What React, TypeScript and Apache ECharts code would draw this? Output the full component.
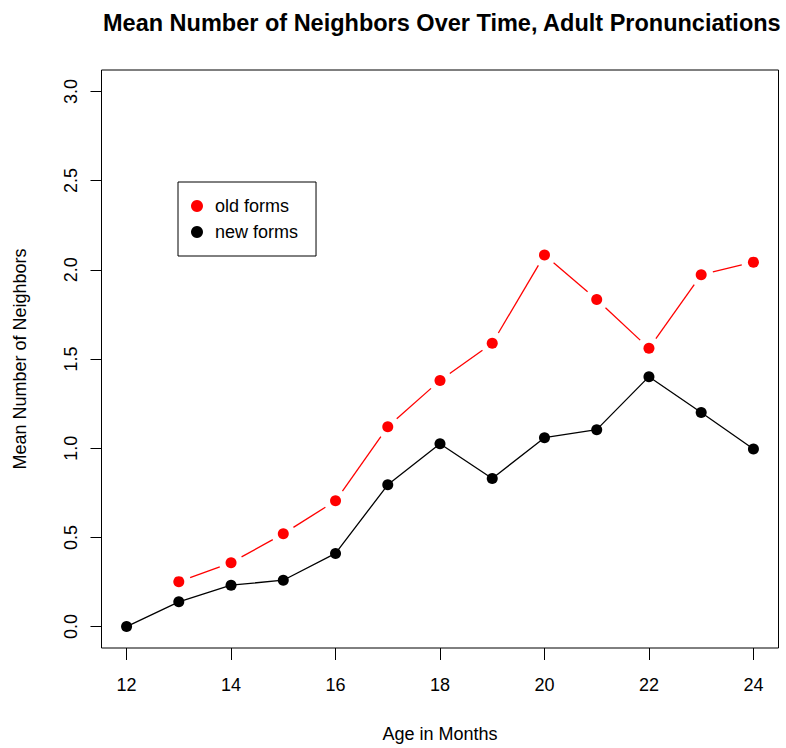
import React, { useEffect, useRef } from "react";
import * as echarts from "echarts";

const ages = [12, 13, 14, 15, 16, 17, 18, 19, 20, 21, 22, 23, 24];
const oldForms: (number | null)[] = [null, 0.252, 0.358, 0.52, 0.705, 1.12, 1.38, 1.588, 2.083, 1.833, 1.56, 1.972, 2.043];
const newForms = [0, 0.139, 0.232, 0.26, 0.41, 0.795, 1.025, 0.83, 1.059, 1.104, 1.401, 1.2, 0.995];
const xTicks = [12, 14, 16, 18, 20, 22, 24];
const yTicks = [0, 0.5, 1, 1.5, 2, 2.5, 3];
const titleText = "Mean Number of Neighbors Over Time, Adult Pronunciations";
const xTitle = "Age in Months";
const yTitle = "Mean Number of Neighbors";

const FONT = "'Liberation Sans', Arial, Helvetica, sans-serif";

export default function App() {
  const ref = useRef<HTMLDivElement>(null);
  useEffect(() => {
    if (!ref.current) return;
    const chart = echarts.init(ref.current, undefined, { renderer: "svg" });
    const oldPts = ages.map((a, i) => [a, oldForms[i]]).filter((p) => p[1] !== null) as number[][];
    const newPts = ages.map((a, i) => [a, newForms[i]]);
    const oldSegs: number[][] = [];
    for (let i = 0; i < oldPts.length - 1; i++) {
      oldSegs.push([oldPts[i][0], oldPts[i][1], oldPts[i + 1][0], oldPts[i + 1][1]]);
    }
    const GAP = 12;
    chart.setOption({
      animation: false,
      backgroundColor: "#fff",
      textStyle: { fontFamily: FONT },
      title: {
        text: titleText,
        left: 98,
        top: 6,
        textStyle: { fontFamily: FONT, fontWeight: "bold", fontSize: 23.5, color: "#000" },
      },
      grid: {
        left: 101.5,
        top: 70,
        width: 677,
        height: 582,
        show: true,
        borderColor: "#000",
        borderWidth: 1,
        backgroundColor: "transparent",
      },
      legend: {
        left: 178,
        top: 182,
        orient: "vertical",
        data: ["old forms", "new forms"],
        icon: "circle",
        itemWidth: 12,
        itemHeight: 12,
        itemGap: 6,
        padding: [14, 18, 14, 13],
        borderColor: "#000",
        borderWidth: 1,
        selectedMode: false,
        textStyle: { fontFamily: FONT, fontSize: 18, lineHeight: 20, color: "#000", padding: [0, 0, 0, 7] },
      },
      xAxis: {
        type: "value",
        min: 11.52,
        max: 24.48,
        name: xTitle,
        nameLocation: "middle",
        nameGap: 77,
        nameTextStyle: { fontFamily: FONT, fontSize: 18, color: "#000" },
        axisLine: { show: false, onZero: false },
        axisTick: { show: true, inside: false, length: 12, customValues: xTicks, lineStyle: { color: "#000" } },
        axisLabel: { customValues: xTicks, margin: 28, fontFamily: FONT, fontSize: 18, color: "#000" },
        splitLine: { show: false },
      },
      yAxis: {
        type: "value",
        min: -0.12,
        max: 3.12,
        name: yTitle,
        nameLocation: "middle",
        nameGap: 73,
        nameTextStyle: { fontFamily: FONT, fontSize: 18, color: "#000" },
        axisLine: { show: false, onZero: false },
        axisTick: { show: true, inside: false, length: 11, customValues: yTicks, lineStyle: { color: "#000" } },
        axisLabel: {
          customValues: yTicks,
          rotate: 90,
          margin: 22,
          fontFamily: FONT,
          fontSize: 18,
          color: "#000",
          formatter: (v: number) => v.toFixed(1),
        },
        splitLine: { show: false },
      },
      series: [
        {
          name: "old forms line",
          type: "custom",
          data: oldSegs,
          encode: { x: [0, 2], y: [1, 3] },
          silent: true,
          renderItem: (params: any, api: any) => {
            const p1 = api.coord([api.value(0), api.value(1)]);
            const p2 = api.coord([api.value(2), api.value(3)]);
            const dx = p2[0] - p1[0];
            const dy = p2[1] - p1[1];
            const len = Math.sqrt(dx * dx + dy * dy);
            if (len <= 2 * GAP) return { type: "group", children: [] };
            const ux = dx / len;
            const uy = dy / len;
            return {
              type: "line",
              shape: {
                x1: p1[0] + ux * GAP,
                y1: p1[1] + uy * GAP,
                x2: p2[0] - ux * GAP,
                y2: p2[1] - uy * GAP,
              },
              style: { stroke: "#ff0000", lineWidth: 1.3 },
            };
          },
        },
        {
          name: "old forms",
          type: "scatter",
          data: oldPts,
          symbol: "circle",
          symbolSize: 11,
          itemStyle: { color: "#ff0000", opacity: 1 },
        },
        {
          name: "new forms",
          type: "line",
          data: newPts,
          symbol: "circle",
          symbolSize: 11,
          showSymbol: true,
          lineStyle: { color: "#000", width: 1.3 },
          itemStyle: { color: "#000", opacity: 1 },
        },
      ],
    });
    return () => chart.dispose();
  }, []);
  return (
    <div
      ref={ref}
      style={{ position: "fixed", left: 0, top: 0, width: 786, height: 748, overflow: "hidden" }}
    />
  );
}
